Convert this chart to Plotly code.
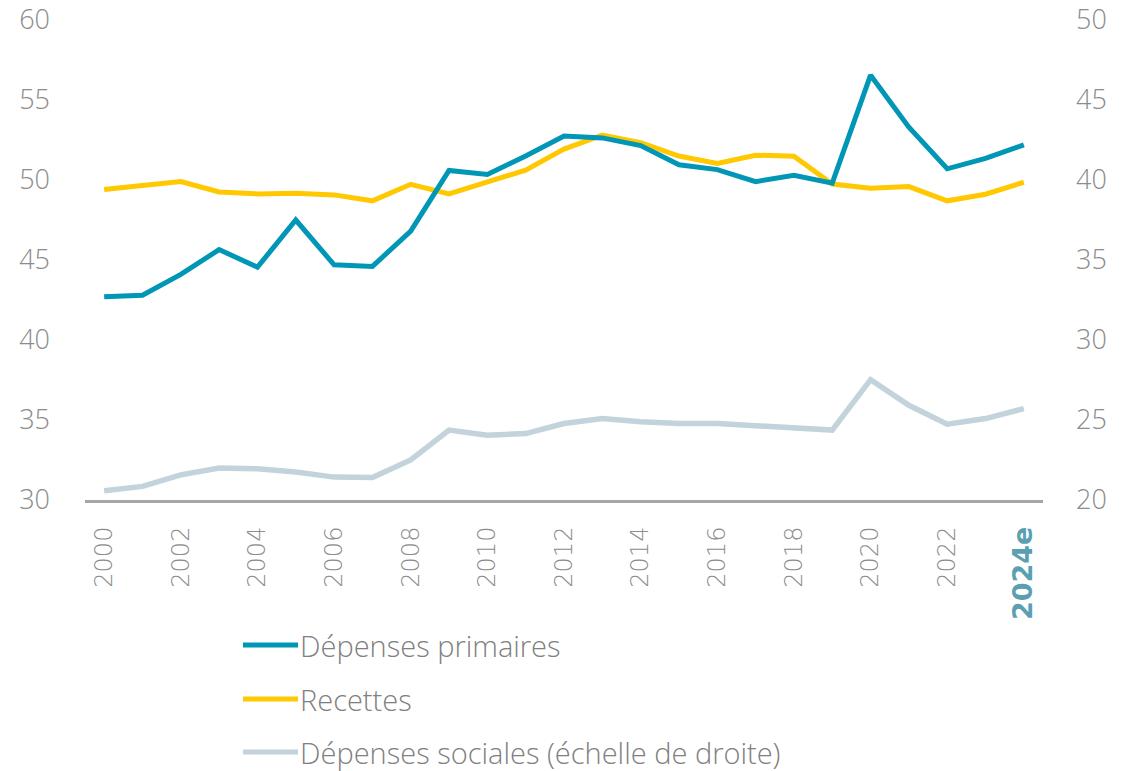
import plotly.graph_objects as go

# Years and series (% of GDP)
years = list(range(2000, 2025))

depenses_primaires = [42.7, 42.8, 44.1, 45.65, 44.55, 47.5, 44.7, 44.6, 46.8, 50.6,
                      50.35, 51.5, 52.75, 52.63, 52.15, 50.95, 50.65, 49.9, 50.3, 49.8,
                      56.55, 53.3, 50.7, 51.35, 52.2]

recettes = [49.4, 49.65, 49.9, 49.25, 49.13, 49.17, 49.07, 48.7, 49.73, 49.13,
            49.86, 50.62, 51.93, 52.8, 52.34, 51.5, 51.04, 51.55, 51.49, 49.75,
            49.48, 49.59, 48.7, 49.11, 49.86]

depenses_sociales = [20.58, 20.85, 21.57, 22.0, 21.95, 21.75, 21.43, 21.4, 22.5, 24.37,
                     24.05, 24.15, 24.78, 25.09, 24.89, 24.78, 24.78, 24.64, 24.58, 24.37,
                     27.52, 25.92, 24.74, 25.09, 25.71]

tick_years = list(range(2000, 2025, 2))
tick_labels = [str(y) for y in tick_years[:-1]] + ["2024e"]

series_names = ["Dépenses primaires", "Recettes", "Dépenses sociales (échelle de droite)"]
series_colors = ["#0096b6", "#ffc800", "#c2d3dc"]

GREY = "#8c8c8c"
FONT = "Open Sans"

fig = go.Figure()

fig.add_trace(go.Scatter(x=years, y=depenses_sociales, mode="lines", name=series_names[2],
                         line=dict(color=series_colors[2], width=5.5), yaxis="y2"))
fig.add_trace(go.Scatter(x=years, y=recettes, mode="lines", name=series_names[1],
                         line=dict(color=series_colors[1], width=5)))
fig.add_trace(go.Scatter(x=years, y=depenses_primaires, mode="lines", name=series_names[0],
                         line=dict(color=series_colors[0], width=5)))

ticktext = tick_labels[:-1] + [
    "<b><span style='color:#5aa0b2;font-family:DejaVu Sans;font-size:27px'>"
    + tick_labels[-1] + "</span></b>"
]

# Plot-area geometry in pixels, used to place the hand-drawn legend
W, H = 1145, 771
ML, MR, MT, MB = 85, 102, 20, 271
pw = W - ML - MR
ph = H - MT - MB


def px_x(px):
    return (px - ML) / pw


def px_y(py):
    return (H - MB - py) / ph


legend_rows = [645, 699, 752]
shapes = []
annotations = []
for name, color, row in zip(series_names, series_colors, legend_rows):
    shapes.append(dict(type="line", xref="paper", yref="paper",
                       x0=px_x(243), x1=px_x(298), y0=px_y(row), y1=px_y(row),
                       line=dict(color=color, width=5)))
    annotations.append(dict(xref="paper", yref="paper", x=px_x(298), y=px_y(row),
                            text=name, showarrow=False, xanchor="left", yanchor="middle",
                            font=dict(family=FONT, size=29, color="#808080", weight=300)))

fig.update_layout(
    width=W, height=H,
    margin=dict(l=ML, r=MR, t=MT, b=MB),
    paper_bgcolor="white", plot_bgcolor="white",
    showlegend=False,
    shapes=shapes,
    annotations=annotations,
    xaxis=dict(
        range=[1999.5, 2024.5],
        tickmode="array", tickvals=tick_years, ticktext=ticktext,
        tickangle=-90,
        tickfont=dict(family="DejaVu Sans", size=24, color=GREY, weight=200),
        showline=True, linecolor="#a6a6a6", linewidth=3,
        showgrid=False, zeroline=False, ticks="",
        ticklabelstandoff=14,
        ticklabeloverflow="allow",
        automargin=False,
    ),
    yaxis=dict(
        range=[30, 60], dtick=5, tick0=30,
        tickfont=dict(family=FONT, size=27, color=GREY, weight=300),
        showgrid=False, zeroline=False, showline=False, ticks="",
        ticklabelstandoff=34,
        ticklabeloverflow="allow",
        automargin=False,
    ),
    yaxis2=dict(
        range=[20, 50], dtick=5, tick0=20,
        overlaying="y", side="right",
        tickfont=dict(family=FONT, size=27, color=GREY, weight=300),
        showgrid=False, zeroline=False, showline=False, ticks="",
        ticklabelstandoff=32,
        ticklabeloverflow="allow",
        automargin=False,
    ),
)

fig.write_html("out.html")
